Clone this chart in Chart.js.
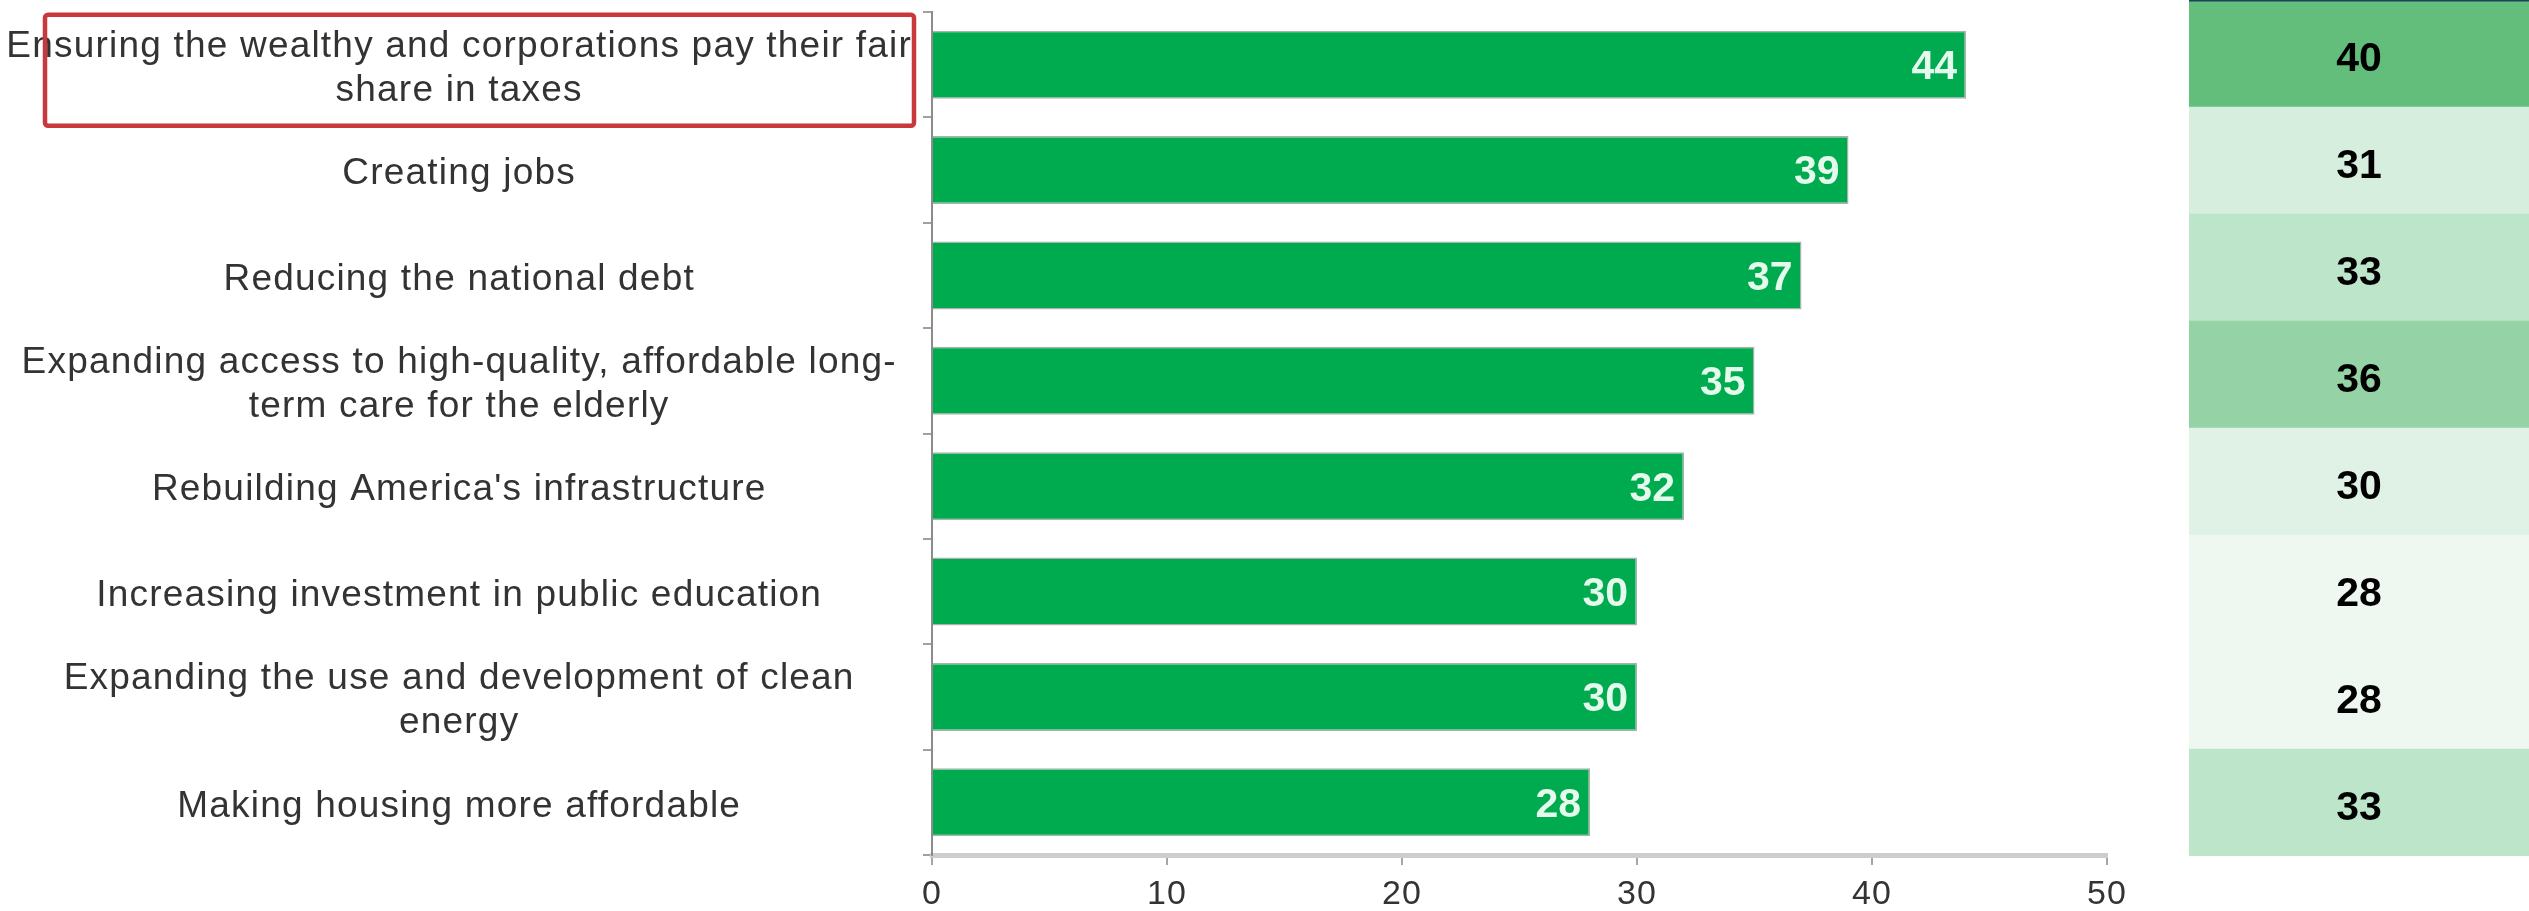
<!DOCTYPE html>
<html>
<head>
<meta charset="utf-8">
<script src="https://cdn.jsdelivr.net/npm/chart.js@4"></script>
<style>
  html, body { margin: 0; padding: 0; background: #fff; }
  body { width: 2529px; height: 911px; position: relative; overflow: hidden; }
  #chart-wrap { position: absolute; left: 0; top: 0; width: 2189px; height: 911px; }
  #table-wrap { position: absolute; left: 2189px; top: 0; width: 340px; height: 856px; }
</style>
</head>
<body>
<div id="chart-wrap"><canvas id="priority-chart"></canvas></div>
<div id="table-wrap"><canvas id="score-table"></canvas></div>
<script>
// ── DATA ──────────────────────────────────────────────────────────────────────

var priorities = [
  ['Ensuring the wealthy and corporations pay their fair', 'share in taxes'],
  'Creating jobs',
  'Reducing the national debt',
  ['Expanding access to high-quality, affordable long-', 'term care for the elderly'],
  "Rebuilding America's infrastructure",
  'Increasing investment in public education',
  ['Expanding the use and development of clean', 'energy'],
  'Making housing more affordable'
];
var topPriorityPct = [44, 39, 37, 35, 32, 30, 30, 28];
var xTicks = [0, 10, 20, 30, 40, 50];

// side column, one cell per priority
var compareValues = [40, 31, 33, 36, 30, 28, 28, 33];
var compareFills = ['#63BE7B', '#D6EEDD', '#BDE5C9', '#95D3A6', '#E0F2E6', '#EEF8F1', '#EEF8F1', '#BDE5C9'];

var FONT = '"Liberation Sans", Arial, Helvetica, sans-serif';
Chart.defaults.font.family = FONT;

// ── PLUGINS ───────────────────────────────────────────────────────────────────

// slightly looser tracking on the axis text
var looseText = {
  id: 'looseText',
  beforeLayout: function(chart) { chart.ctx.letterSpacing = '1.2px'; },
  beforeDraw: function(chart) { chart.ctx.letterSpacing = '1.2px'; }
};

var barValueLabels = {
  id: 'barValueLabels',
  afterDatasetsDraw: function(chart) {
    var ctx = chart.ctx;
    var meta = chart.getDatasetMeta(0);
    ctx.save();
    ctx.letterSpacing = '0px';
    ctx.font = 'bold 41px ' + FONT;
    ctx.fillStyle = '#E4FAEC';
    ctx.textAlign = 'right';
    ctx.textBaseline = 'middle';
    meta.data.forEach(function(bar, i) {
      ctx.fillText(String(topPriorityPct[i]), bar.x - 9, bar.y + 3);
    });
    ctx.restore();
  }
};

// red outline round the first label
var highlightBox = {
  id: 'highlightBox',
  afterDraw: function(chart) {
    var ctx = chart.ctx;
    var y = chart.scales.y;
    var cy = y.getPixelForValue(0);
    var left = y.left + 45, right = y.right - 18;
    var top = cy - 50, bottom = cy + 61;
    ctx.save();
    ctx.strokeStyle = '#C9383B';
    ctx.lineWidth = 4.5;
    ctx.beginPath();
    ctx.roundRect(left, top, right - left, bottom - top, 3);
    ctx.stroke();
    ctx.restore();
  }
};

var cellText = {
  id: 'cellText',
  afterDatasetsDraw: function(chart) {
    var ctx = chart.ctx;
    var area = chart.chartArea;
    var meta = chart.getDatasetMeta(0);
    ctx.save();
    ctx.font = 'bold 41px ' + FONT;
    ctx.fillStyle = '#000';
    ctx.textAlign = 'center';
    ctx.textBaseline = 'middle';
    meta.data.forEach(function(cell, i) {
      ctx.fillText(String(compareValues[i]), (area.left + area.right) / 2, cell.y + 6);
    });
    // dark rule along the top edge
    ctx.fillStyle = '#1E3F5E';
    ctx.fillRect(area.left, area.top, area.right - area.left, 1.5);
    ctx.restore();
  }
};

// ── MAIN BAR CHART ────────────────────────────────────────────────────────────

new Chart(document.getElementById('priority-chart'), {
  type: 'bar',
  data: {
    labels: priorities,
    datasets: [{
      data: topPriorityPct,
      backgroundColor: '#00AB4F',
      borderColor: '#A9B3AC',
      borderWidth: 1.5,
      borderSkipped: 'start',
      barPercentage: 0.645,
      categoryPercentage: 1
    }]
  },
  options: {
    indexAxis: 'y',
    responsive: true,
    maintainAspectRatio: false,
    animation: false,
    layout: { padding: { top: 12, right: 82, bottom: 0, left: 0 } },
    plugins: {
      legend: { display: false },
      tooltip: { enabled: false }
    },
    scales: {
      x: {
        min: xTicks[0],
        max: xTicks[xTicks.length - 1],
        ticks: {
          stepSize: xTicks[1] - xTicks[0],
          color: '#333',
          font: { size: 34 },
          padding: 9
        },
        grid: { drawOnChartArea: false, tickLength: 10, color: '#a6a6a6', lineWidth: 2 },
        border: { color: '#cdcdcd', width: 5 },
        afterFit: function(s) { s.height = 56; }
      },
      y: {
        ticks: {
          color: '#333',
          font: { size: 37, lineHeight: 1.2 },
          crossAlign: 'center',
          padding: 11,
          labelOffset: 4,
          autoSkip: false
        },
        grid: { drawOnChartArea: false, tickLength: 9, color: '#a0a0a0', lineWidth: 2, offset: true },
        border: { color: '#8c8c8c', width: 2 },
        afterFit: function(s) {
          s.width = 932;
          s.paddingTop = 0;
          s.paddingBottom = 0;
        }
      }
    }
  },
  plugins: [looseText, barValueLabels, highlightBox]
});

// ── SIDE COLUMN ───────────────────────────────────────────────────────────────

new Chart(document.getElementById('score-table'), {
  type: 'bar',
  data: {
    labels: compareValues.map(String),
    datasets: [{
      data: compareValues.map(function() { return 1; }),
      backgroundColor: compareFills,
      borderWidth: 0,
      barPercentage: 1,
      categoryPercentage: 1
    }]
  },
  options: {
    indexAxis: 'y',
    responsive: true,
    maintainAspectRatio: false,
    animation: false,
    layout: { padding: 0 },
    plugins: {
      legend: { display: false },
      tooltip: { enabled: false }
    },
    scales: {
      x: { display: false, min: 0, max: 1 },
      y: { display: false }
    }
  },
  plugins: [cellText]
});
</script>
</body>
</html>
